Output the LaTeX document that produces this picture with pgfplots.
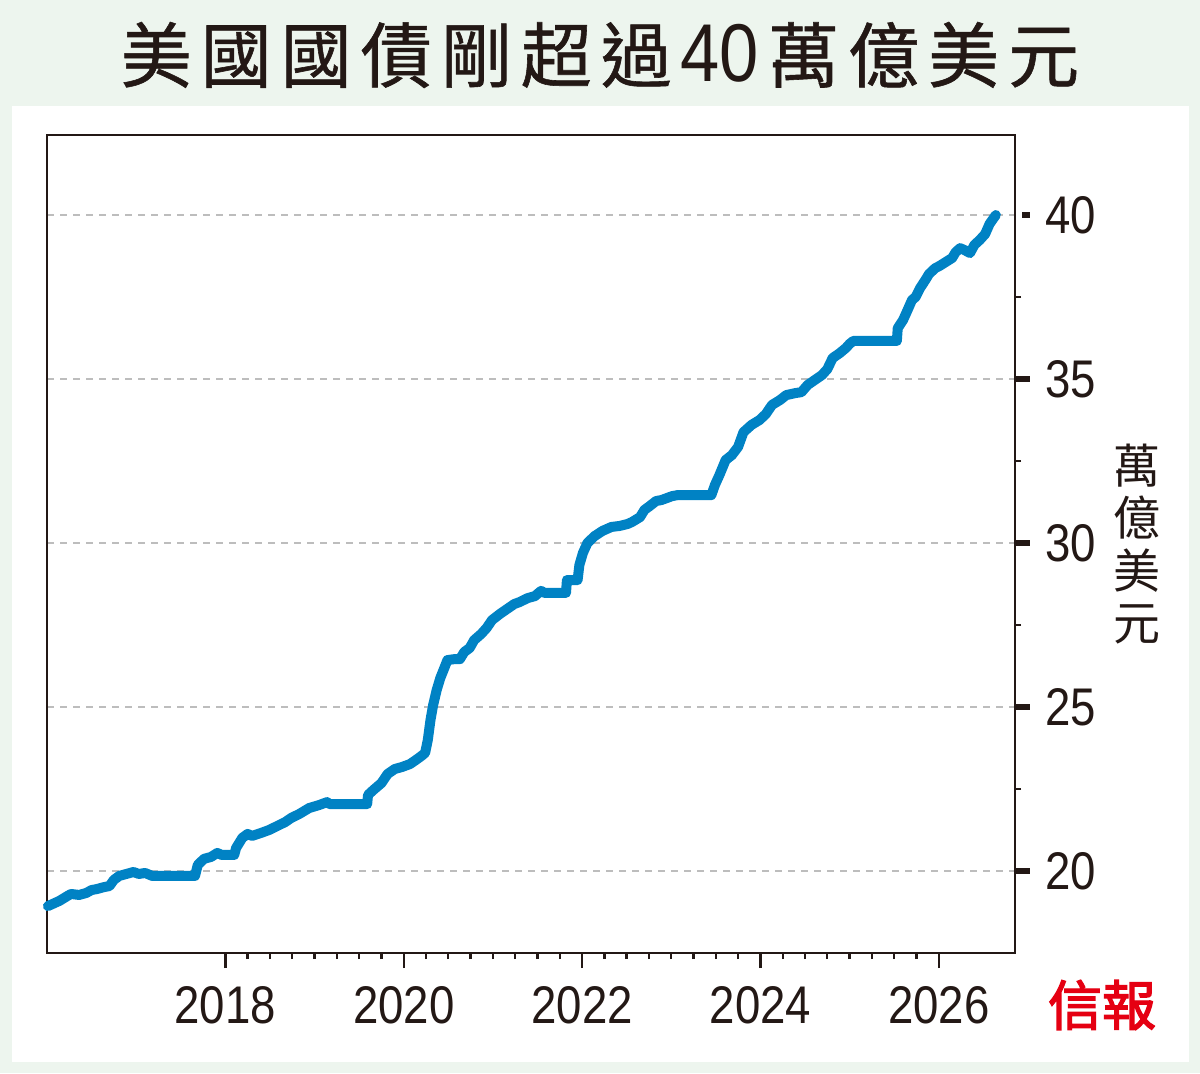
\documentclass[border=0pt]{standalone}
\usepackage{pgfplots}
\pgfplotsset{compat=1.18}
\usepackage{fontspec}
\setmainfont{Liberation Sans}
\newfontfamily\narrow[FakeStretch=0.86]{Liberation Sans}
\newfontfamily\cjk{Noto Sans CJK TC}
\newfontfamily\cjkb[FakeBold=0.8]{Noto Sans CJK TC}
\newfontfamily\cjkred[FakeBold=2.5]{Noto Sans CJK TC}
\definecolor{bg}{HTML}{EDF5EE}
\definecolor{ink}{HTML}{231815}
\definecolor{line}{HTML}{0082C4}
\definecolor{logo}{HTML}{E50012}
\definecolor{gridc}{HTML}{BDBDBD}
\newcommand\gap{\hspace{4.5pt}}
\begin{document}
\begin{tikzpicture}
\fill[bg] (0,0) rectangle (600pt,536.5pt);
\fill[white] (6pt,5.5pt) rectangle (594.5pt,483.5pt);
\node[font=\cjkb\fontsize{35.5}{40}\selectfont, text=ink, inner sep=0pt] at (300pt,509pt)
  {美\gap 國\gap 國\gap 債\gap 剛\gap 超\gap 過\gap{\narrow\fontsize{41}{40}\selectfont 40}\gap 萬\gap 億\gap 美\gap 元};
\node[font=\cjk\fontsize{23.5}{26.3}\selectfont, text=ink, align=center, inner sep=0pt] at (568.5pt,264.5pt)
  {萬\\億\\美\\元};
\node[font=\cjkred\fontsize{27}{27}\selectfont, text=logo, inner sep=0pt] at (551pt,34pt) {信報};
\begin{axis}[
  at={(23.5pt,60pt)}, anchor=south west,
  scale only axis, width=484pt, height=409pt,
  xmin=2016, xmax=2026.855, ymin=17.5, ymax=42.44,
  axis line style={ink, line width=1.4pt},
  xtick={2018,2020,2022,2024,2026},
  xticklabels={2018,2020,2022,2024,2026},
  minor x tick num=7,
  ytick={20,25,30,35,40},
  yticklabels={20,25,30,35,40},
  minor y tick num=1,
  xtick pos=bottom, ytick pos=right, yticklabel pos=right,
  tick align=outside,
  major tick length=7.5pt, minor tick length=3pt,
  every tick/.style={ink, line width=1.2pt},
  every major y tick/.append style={line width=3pt, shorten >=3.5pt},
  ticklabel style={font=\narrow\fontsize{26.5}{28}\selectfont, text=ink},
  xticklabel style={yshift=-5.5pt},
  yticklabel style={xshift=4pt},
  ymajorgrids,
  major grid style={gridc, line width=1pt, dash pattern=on 3.5pt off 3pt},
  clip=false,
]
\addplot[line, line width=5pt, line join=round, line cap=round] coordinates {
(2016.01,18.93) (2016.14,19.09) (2016.23,19.24) (2016.27,19.30) (2016.36,19.27)
(2016.44,19.33) (2016.50,19.42) (2016.56,19.45) (2016.64,19.51) (2016.70,19.54)
(2016.75,19.73) (2016.81,19.85) (2016.89,19.91) (2016.97,19.97) (2017.03,19.91)
(2017.10,19.94) (2017.18,19.85) (2017.26,19.85) (2017.66,19.85) (2017.69,20.18)
(2017.76,20.37) (2017.84,20.43) (2017.91,20.55) (2017.96,20.49) (2018.10,20.49)
(2018.12,20.70) (2018.19,21.01) (2018.25,21.13) (2018.30,21.07) (2018.40,21.16)
(2018.49,21.25) (2018.58,21.37) (2018.67,21.49) (2018.74,21.62) (2018.83,21.74)
(2018.94,21.92) (2019.05,22.01) (2019.14,22.10) (2019.17,22.04) (2019.59,22.04)
(2019.60,22.32) (2019.66,22.47) (2019.75,22.68) (2019.82,22.96) (2019.90,23.11)
(2019.98,23.17) (2020.07,23.26) (2020.15,23.41) (2020.20,23.51) (2020.24,23.60)
(2020.27,23.99) (2020.30,24.60) (2020.33,25.06) (2020.37,25.52) (2020.41,25.88)
(2020.46,26.22) (2020.49,26.43) (2020.57,26.46) (2020.63,26.46) (2020.68,26.68)
(2020.74,26.80) (2020.79,27.04) (2020.87,27.23) (2020.93,27.41) (2020.99,27.65)
(2021.08,27.84) (2021.16,27.99) (2021.24,28.14) (2021.30,28.20) (2021.39,28.32)
(2021.47,28.38) (2021.54,28.54) (2021.58,28.48) (2021.82,28.48) (2021.83,28.87)
(2021.95,28.87) (2021.97,29.33) (2022.01,29.70) (2022.06,30.00) (2022.14,30.21)
(2022.23,30.37) (2022.33,30.49) (2022.42,30.52) (2022.51,30.58) (2022.56,30.64)
(2022.65,30.79) (2022.70,31.01) (2022.76,31.13) (2022.83,31.28) (2022.89,31.31)
(2022.95,31.37) (2023.01,31.43) (2023.07,31.46) (2023.45,31.46) (2023.49,31.77)
(2023.54,32.07) (2023.61,32.53) (2023.68,32.68) (2023.75,32.93) (2023.81,33.38)
(2023.90,33.60) (2023.99,33.75) (2024.06,33.93) (2024.13,34.21) (2024.22,34.36)
(2024.29,34.51) (2024.39,34.57) (2024.46,34.60) (2024.53,34.82) (2024.61,34.97)
(2024.69,35.12) (2024.75,35.30) (2024.81,35.64) (2024.89,35.79) (2024.96,35.95)
(2025.00,36.07) (2025.04,36.16) (2025.53,36.16) (2025.54,36.55) (2025.60,36.80)
(2025.64,37.04) (2025.70,37.41) (2025.74,37.50) (2025.79,37.77) (2025.85,38.02)
(2025.89,38.20) (2025.96,38.38) (2026.01,38.45) (2026.08,38.57) (2026.15,38.69)
(2026.19,38.87) (2026.24,38.99) (2026.29,38.93) (2026.35,38.84) (2026.40,39.09)
(2026.46,39.24) (2026.52,39.42) (2026.57,39.73) (2026.64,40.00)
};
\end{axis}
\end{tikzpicture}
\end{document}
